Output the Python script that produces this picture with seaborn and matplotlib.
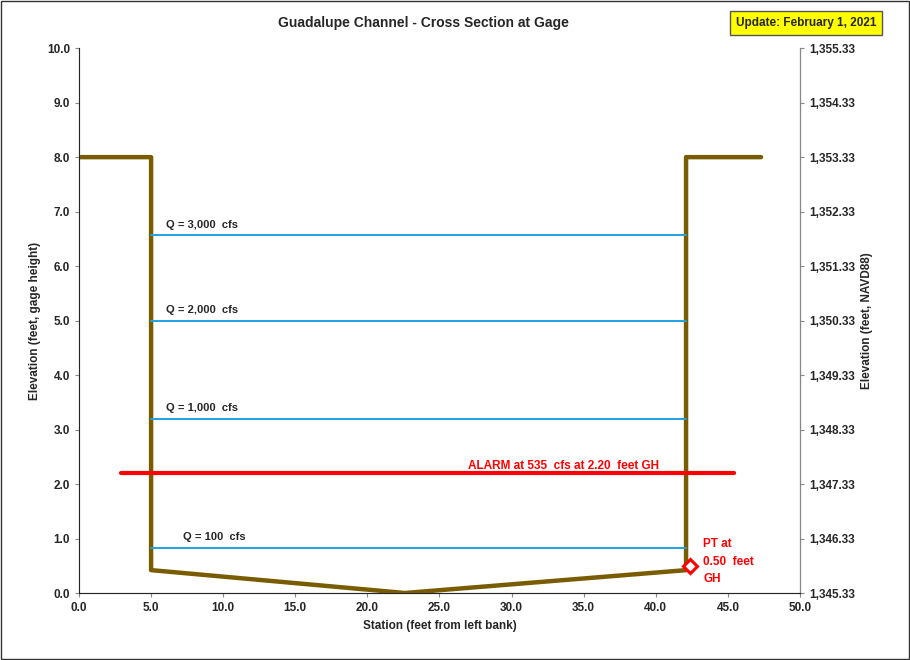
import matplotlib
matplotlib.use("Agg")
import matplotlib.pyplot as plt
import seaborn as sns
import pandas as pd
from matplotlib.ticker import FuncFormatter

sns.set_style("white")
plt.rcParams['font.family'] = ['Liberation Sans', 'DejaVu Sans']

chan_x = [0, 5.0, 5.0, 22.6, 42.1, 42.1, 47.3]
chan_y = [8.0, 8.0, 0.42, 0.0, 0.42, 8.0, 8.0]
flow_labels = ["Q = 3,000  cfs", "Q = 2,000  cfs", "Q = 1,000  cfs", "Q = 100  cfs"]
flow_levels = [6.57, 5.0, 3.2, 0.83]
flow_x = [5.0, 42.1]
alarm_x = [2.9, 45.4]
alarm_y = 2.2
pt_x, pt_y = 42.4, 0.5
datum = 1345.33

fig = plt.figure(figsize=(9.1, 6.6), dpi=100)
ax = fig.add_axes([0.0868, 0.1015, 0.7923, 0.8255])

df = pd.DataFrame({"x": chan_x, "y": chan_y, "o": range(len(chan_x))})
sns.lineplot(data=df, x="x", y="y", units="o", estimator=None, sort=False, color="#7a5c00", lw=3.2, ax=ax)
ax.plot(chan_x, chan_y, color="#7a5c00", lw=3.2)
for lab, lv in zip(flow_labels, flow_levels):
    sns.lineplot(x=flow_x, y=[lv, lv], color="#1fa3e0", lw=1.4, ax=ax)
    ax.text(6.0 if lv > 1 else 7.2, lv + 0.1, lab, fontsize=8, fontweight="bold", va="bottom")
sns.lineplot(x=alarm_x, y=[alarm_y, alarm_y], color="#ff0000", lw=3, ax=ax)
ax.text(27.0, alarm_y + 0.02, "ALARM at 535  cfs at 2.20  feet GH", color="red", fontsize=8.5,
        fontweight="bold", va="bottom")
ax.plot([pt_x], [pt_y], marker="D", ms=7, mfc="white", mec="red", mew=2.2)
ax.text(43.3, 0.2, "PT at\n0.50  feet\nGH", color="red", fontsize=8.5, fontweight="bold", linespacing=1.6)

ax.set_xlim(0, 50)
ax.set_ylim(0, 10)
ax.set_xticks(range(0, 51, 5))
ax.set_yticks(range(0, 11))
ax.xaxis.set_major_formatter(FuncFormatter(lambda v, p: f"{v:.1f}"))
ax.yaxis.set_major_formatter(FuncFormatter(lambda v, p: f"{v:.1f}"))
ax.set_xlabel("Station (feet from left bank)", fontsize=8.5, fontweight="bold")
ax.set_ylabel("Elevation (feet, gage height)", fontsize=8.5, fontweight="bold")
ax.tick_params(labelsize=8.5)
for t in ax.get_xticklabels() + ax.get_yticklabels():
    t.set_fontweight("bold")
ax.spines["top"].set_visible(False)
ax.spines["left"].set_color("#888888")
ax.spines["bottom"].set_color("#888888")
ax.tick_params(axis="both", length=3, color="#888888", direction="out", bottom=True, left=True)

ax2 = ax.twinx()
ax2.set_ylim(datum, datum + 10)
ax2.set_yticks([datum + i for i in range(11)])
ax2.yaxis.set_major_formatter(FuncFormatter(lambda v, p: f"{v:,.2f}"))
ax2.set_ylabel("Elevation (feet, NAVD88)", fontsize=8.5, fontweight="bold")
ax2.tick_params(labelsize=8.5, length=3, color="#888888", right=True)
for t in ax2.get_yticklabels():
    t.set_fontweight("bold")
ax2.spines["top"].set_visible(False)
ax2.spines["right"].set_color("#888888")

fig.text(0.465, 0.965, "Guadalupe Channel - Cross Section at Gage", ha="center", va="center",
         fontsize=10, fontweight="bold")
fig.text(0.886, 0.965, "Update: February 1, 2021", ha="center", va="center", fontsize=8.5,
         fontweight="bold", bbox=dict(boxstyle="square,pad=0.5", fc="#ffff00", ec="#555555"))
fig.patches.append(plt.Rectangle((0.001, 0.001), 0.998, 0.998, transform=fig.transFigure,
                                 fill=False, ec="#333333", lw=1))
fig.savefig("out.png", dpi=100)
